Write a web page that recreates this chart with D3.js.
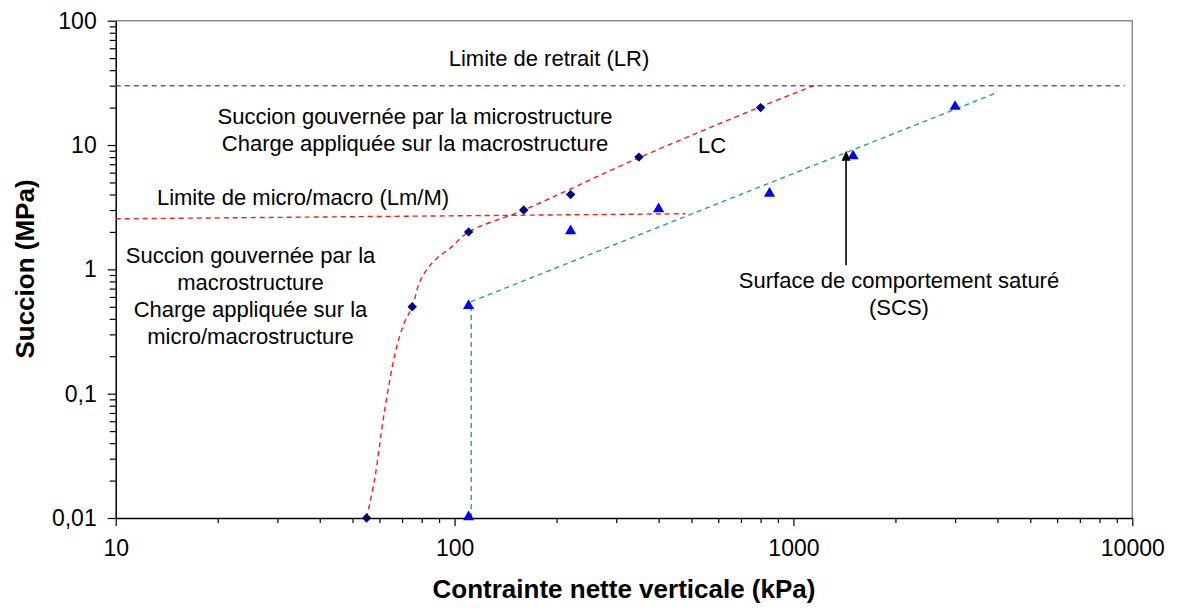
<!DOCTYPE html>
<html><head><meta charset="utf-8">
<script src="https://cdn.jsdelivr.net/npm/d3@7"></script>
<style>body{margin:0;background:#fff}svg{display:block;font-family:"Liberation Sans",Arial,Helvetica,sans-serif}</style>
</head><body><svg id="c" width="1178" height="612"></svg>
<script>
// ---- data ----
const diamondX = [55, 75, 110, 160, 220, 350, 800];
const diamondY = [0.01, 0.5, 2, 3, 4, 8, 20];
const triangleX = [110, 110, 220, 400, 850, 1500, 3000];
const triangleY = [0.01, 0.5, 2, 3, 4, 8, 20];
const lcX = [55, 58, 62, 67, 71, 75, 79, 84, 89, 97, 110, 160, 350, 800, 1150];
const lcY = [0.01, 0.02, 0.07, 0.22, 0.37, 0.5, 0.8, 1.05, 1.24, 1.48, 2, 3, 7.9, 20.3, 30];
const lmX = [10, 480];
const lmY = [2.55, 2.8];
const lrX = [10, 9500];
const lrY = [30, 30];
const scsX = [112, 112, 4000];
const scsY = [0.01, 0.55, 26.5];
const arrowX = [1430, 1430];
const arrowY = [1.08, 9];
const xTickValues = [10, 100, 1000, 10000];
const xTickLabels = ["10", "100", "1000", "10000"];
const yTickValues = [0.01, 0.1, 1, 10, 100];
const yTickLabels = ["0,01", "0,1", "1", "10", "100"];
const xTitle = "Contrainte nette verticale (kPa)";
const yTitle = "Succion (MPa)";
const notes = [
  ["Limite de retrait (LR)"],
  ["Succion gouvernée par la microstructure", "Charge appliquée sur la macrostructure"],
  ["LC"],
  ["Limite de micro/macro (Lm/M)"],
  ["Succion gouvernée par la", "macrostructure", "Charge appliquée sur la", "micro/macrostructure"],
  ["Surface de comportement saturé", "(SCS)"]
];
// ---- layout ----
const notePos = [
  {x: 549, y: 66, lh: 27},
  {x: 415, y: 123.5, lh: 27},
  {x: 712, y: 152.5, lh: 27},
  {x: 303, y: 205, lh: 27},
  {x: 250.5, y: 262.7, lh: 27.2},
  {x: 899, y: 288.3, lh: 26.7}
];
const L = 115.7, R = 1132.3, T = 20.7, B = 518;
const svg = d3.select("#c");
const x = d3.scaleLog().domain([10, 10000]).range([L, R]);
const y = d3.scaleLog().domain([0.01, 100]).range([B, T]);

// frame (top/right gray)
svg.append("path").attr("d", `M${L},${T}H${R}V${B}`).attr("fill", "none")
  .attr("stroke", "#8c8c8c").attr("stroke-width", 1.5);

// minor ticks
const xMinor = x.ticks().filter(v => !xTickValues.includes(v));
const yMinor = y.ticks().filter(v => !yTickValues.some(t => Math.abs(t - v) / v < 1e-9));
const gx = svg.append("g").attr("transform", `translate(0,${B})`);
gx.call(d3.axisBottom(x).tickValues(xMinor).tickSize(5).tickFormat(""));
gx.call(g => g.select(".domain").remove());
const gx2 = svg.append("g").attr("transform", `translate(0,${B})`);
gx2.call(d3.axisBottom(x).tickValues(xTickValues).tickSize(8).tickSizeOuter(0).tickPadding(14)
  .tickFormat((d, i) => xTickLabels[i]));
const gy = svg.append("g").attr("transform", `translate(${L},0)`);
gy.call(d3.axisLeft(y).tickValues(yMinor).tickSize(6).tickFormat(""));
gy.call(g => g.select(".domain").remove());
const gy2 = svg.append("g").attr("transform", `translate(${L},0)`);
gy2.call(d3.axisLeft(y).tickValues(yTickValues).tickSize(8).tickSizeOuter(0).tickPadding(11)
  .tickFormat((d, i) => yTickLabels[i]));
svg.selectAll(".tick line").attr("stroke", "#000").attr("stroke-width", 1.2);
svg.selectAll(".domain").attr("stroke", "#000").attr("stroke-width", 1.5);
svg.selectAll(".tick text").attr("font-family", "Liberation Sans, Arial, sans-serif")
  .attr("font-size", 23).attr("fill", "#000");

// lines
const line = d3.line().x(d => x(d[0])).y(d => y(d[1]));
function dashed(xs, ys, color, dash, curve) {
  const pts = xs.map((v, i) => [v, ys[i]]);
  const ln = curve ? line.curve(curve) : line.curve(d3.curveLinear);
  svg.append("path").attr("d", ln(pts)).attr("fill", "none")
    .attr("stroke", color).attr("stroke-width", 1.4).attr("stroke-dasharray", dash);
}
dashed(lrX, lrY, "#5a5ab4", "5,4");
dashed(lmX, lmY, "#ff1a1a", "5,4");
dashed(lcX, lcY, "#ff1a1a", "5,4", d3.curveCatmullRom.alpha(0.5));
dashed(scsX, scsY, "#2e9c9c", "5,4");

// markers
svg.append("g").selectAll("path").data(diamondX.map((v, i) => [v, diamondY[i]])).join("path")
  .attr("d", d3.symbol(d3.symbolSquare, 44)())
  .attr("transform", d => `translate(${x(d[0])},${y(d[1])}) rotate(45)`)
  .attr("fill", "#000080");
svg.append("g").selectAll("path").data(triangleX.map((v, i) => [v, triangleY[i]])).join("path")
  .attr("d", d3.symbol(d3.symbolTriangle, 54)())
  .attr("transform", d => `translate(${x(d[0])},${y(d[1]) - 1})`)
  .attr("fill", "#0000ff");

// arrow
const ax = x(arrowX[0]), ay0 = y(arrowY[0]), ay1 = y(arrowY[1]);
svg.append("line").attr("x1", ax).attr("x2", ax).attr("y1", ay0).attr("y2", ay1 + 8)
  .attr("stroke", "#000").attr("stroke-width", 1.6);
svg.append("path").attr("d", `M${ax},${ay1}L${ax - 4.5},${ay1 + 10}L${ax + 4.5},${ay1 + 10}Z`).attr("fill", "#000");

// annotations
notes.forEach((lines, i) => {
  const p = notePos[i];
  const t = svg.append("text").attr("text-anchor", "middle").attr("font-size", 22).attr("fill", "#000");
  lines.forEach((s, j) => t.append("tspan").attr("x", p.x).attr("y", p.y + j * p.lh).text(s));
});

// titles
svg.append("text").attr("x", 624).attr("y", 598).attr("text-anchor", "middle")
  .attr("font-size", 26).attr("font-weight", "bold").text(xTitle);
svg.append("text").attr("transform", "translate(34,269) rotate(-90)").attr("text-anchor", "middle")
  .attr("font-size", 26).attr("font-weight", "bold").text(yTitle);
</script></body></html>
